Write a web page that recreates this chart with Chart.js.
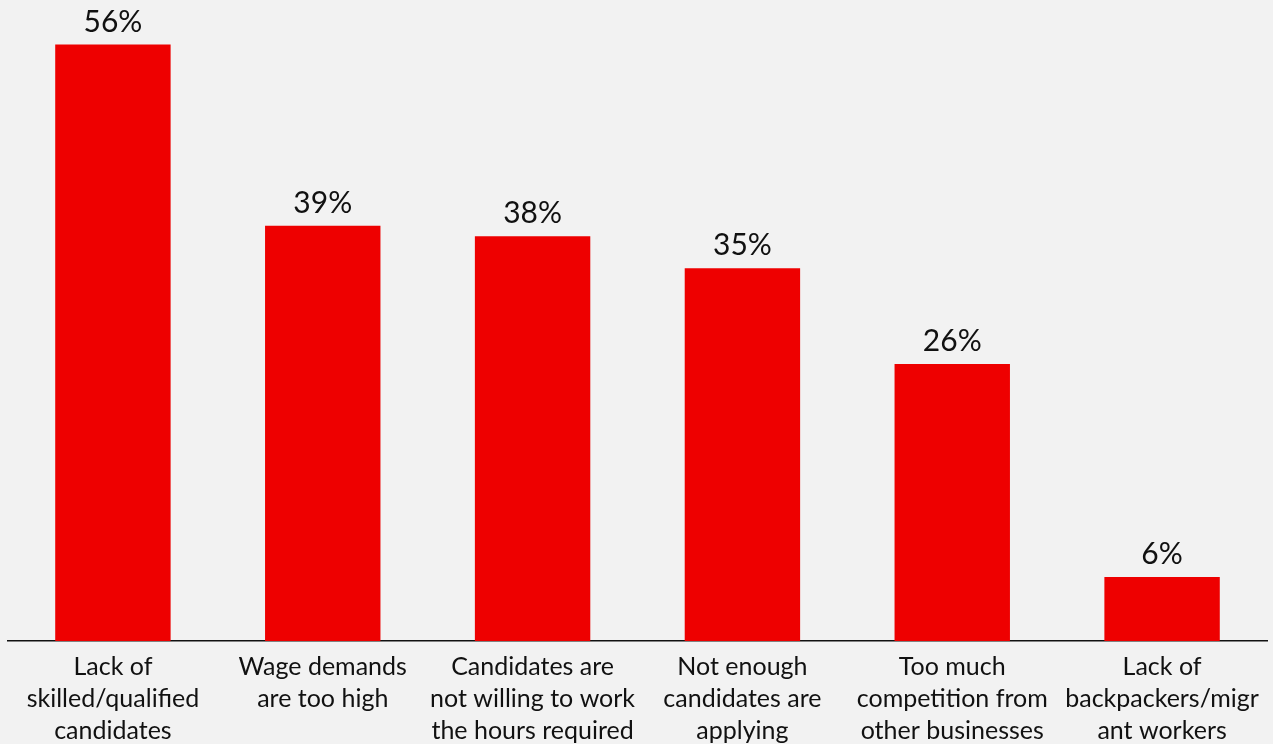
<!DOCTYPE html>
<html>
<head>
<meta charset="utf-8">
<script src="https://cdn.jsdelivr.net/npm/chart.js@4"></script>
<style>
  html, body { margin: 0; padding: 0; background: #f2f2f2; }
  #wrap { width: 1273px; height: 744px; }
</style>
</head>
<body>
<div id="wrap"><canvas id="barChart"></canvas></div>
<script>
const categories = [
    ["Lack of", "skilled/qualified", "candidates"],
    ["Wage demands", "are too high"],
    ["Candidates are", "not willing to work", "the hours required"],
    ["Not enough", "candidates are", "applying"],
    ["Too much", "competition from", "other businesses"],
    ["Lack of", "backpackers/migr", "ant workers"]
];
const shares = [56, 39, 38, 35, 26, 6];

const FONT = "Lato, 'Liberation Sans', sans-serif";

// writes the percentage above each bar
const valueLabels = {
    id: "valueLabels",
    afterDatasetsDraw(chart) {
        const ctx = chart.ctx;
        const meta = chart.getDatasetMeta(0);
        ctx.save();
        ctx.font = "30px " + FONT;
        ctx.fillStyle = "#111";
        ctx.textAlign = "center";
        ctx.textBaseline = "alphabetic";
        meta.data.forEach((bar, i) => {
            ctx.fillText(shares[i] + "%", bar.x, bar.y - 13);
        });
        ctx.restore();
    }
};

const ctx = document.getElementById("barChart").getContext("2d");
new Chart(ctx, {
    type: "bar",
    data: {
        labels: categories,
        datasets: [{
            data: shares,
            backgroundColor: "#ee0000",
            categoryPercentage: 1,
            barPercentage: 0.55
        }]
    },
    options: {
        responsive: true,
        maintainAspectRatio: false,
        animation: false,
        layout: { padding: { top: 2, left: 8, right: 6, bottom: 0 } },
        plugins: {
            legend: { display: false },
            tooltip: { enabled: false }
        },
        scales: {
            x: {
                grid: { display: false, drawTicks: false },
                border: { display: true, color: "#111", width: 1.5 },
                ticks: {
                    color: "#111",
                    padding: 10,
                    maxRotation: 0,
                    autoSkip: false,
                    font: { family: FONT, size: 25, lineHeight: "32px" }
                },
                afterFit(scale) { scale.height = 103; }
            },
            y: {
                display: false,
                min: 0,
                max: 60
            }
        }
    },
    plugins: [valueLabels]
});
</script>
</body>
</html>
